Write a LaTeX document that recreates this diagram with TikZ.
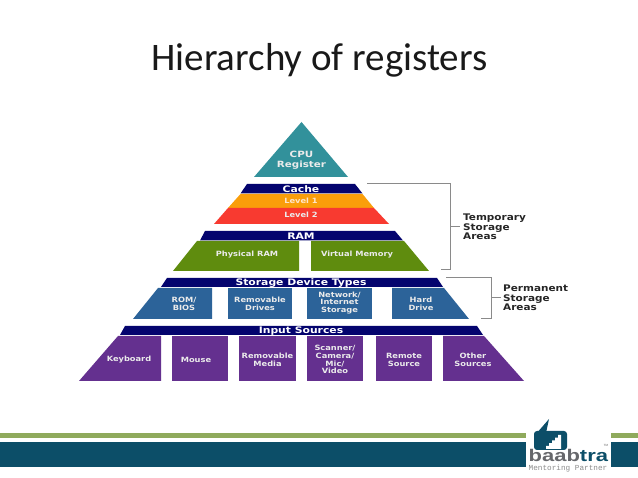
\documentclass[tikz,border=0pt]{standalone}
\usepackage{fontspec}
\setmainfont{Carlito}
\newfontfamily\djvfont[FakeStretch=1.15]{DejaVu Sans}
\newfontfamily\djwfont[FakeStretch=1.2]{DejaVu Sans}
\newfontfamily\libfont[FakeStretch=1.3]{Liberation Sans}
\newfontfamily\plainfont{Liberation Sans}
\newfontfamily\monofont{Liberation Mono}
\definecolor{navy}{HTML}{04046E}
\definecolor{cputeal}{HTML}{32919B}
\definecolor{lvlorange}{HTML}{FA9E0A}
\definecolor{lvlred}{HTML}{F83A30}
\definecolor{ramgreen}{HTML}{5F8C0E}
\definecolor{stblue}{HTML}{2C6399}
\definecolor{inpurple}{HTML}{64308F}
\definecolor{bandteal}{HTML}{0C4E68}
\definecolor{bandgreen}{HTML}{8FAA5C}
\definecolor{brk}{HTML}{8A8A8A}
\definecolor{lgray}{HTML}{66676B}
\tikzset{
  lbl/.style={font=\djvfont\bfseries\fontsize{7.2}{7.8}\selectfont,text=white!92!black,align=center,inner sep=0pt},
  hdr/.style={font=\djwfont\bfseries\fontsize{9}{9}\selectfont,text=white,align=center,inner sep=0pt},
  side/.style={font=\djvfont\bfseries\fontsize{9.1}{9.6}\selectfont,text=black!85,align=left,anchor=west,inner sep=0pt},
  brline/.style={draw=brk,line width=1pt}
}
\begin{document}
\begin{tikzpicture}[x=1pt,y=-1pt]
\useasboundingbox (0,0) rectangle (638,478);
\fill[white] (0,0) rectangle (638,478);
\node[font=\fontsize{39}{42}\selectfont,text=black!90,inner sep=0pt,anchor=base] (title) at (319.5,71) {Hierarchy of registers};
% CPU
\fill[cputeal] (301.5,122)--(348,177)--(254,177)--cycle;
\node[lbl,font=\djwfont\bfseries\fontsize{8.6}{9.6}\selectfont] (cpu) at (301.5,160) {CPU\\Register};
% Cache
\fill[navy] (247,184)--(355,184)--(362.5,193.5)--(240.5,193.5)--cycle;
\node[hdr] (cache) at (301,189) {Cache};
\fill[lvlorange] (240.5,194)--(362.5,194)--(374,208)--(228,208)--cycle;
\node[lbl,text=white!80!orange] (l1) at (301,200.5) {Level 1};
\fill[lvlred] (228,208)--(374,208)--(389,224)--(214,224)--cycle;
\node[lbl] (l2) at (301,215) {Level 2};
% RAM
\fill[navy] (205,231)--(395,231)--(403,240.5)--(200,240.5)--cycle;
\node[hdr] (ram) at (301,236) {RAM};
\fill[ramgreen] (197,241)--(299,241)--(299,271)--(173,271)--cycle;
\node[lbl] (pram) at (247,255) {Physical RAM};
\fill[ramgreen] (311,241)--(404,241)--(429,271)--(311,271)--cycle;
\node[lbl] (vmem) at (357,255) {Virtual Memory};
% Storage
\fill[navy] (167,278)--(437,278)--(443,287)--(161,287)--cycle;
\node[hdr] (stor) at (301,283.3) {Storage Device Types};
\fill[stblue] (158,288)--(212,288)--(212,319)--(133,319)--cycle;
\node[lbl] (rom) at (184,304) {ROM/\\BIOS};
\fill[stblue] (228,288)--(292,288)--(292,319)--(228,319)--cycle;
\node[lbl] (rdrv) at (260,304) {Removable\\Drives};
\fill[stblue] (307,288)--(372,288)--(372,319)--(307,319)--cycle;
\node[lbl] (net) at (339.5,303) {Network/\\Internet\\Storage};
\fill[stblue] (392,288)--(444,288)--(469,319)--(392,319)--cycle;
\node[lbl] (hd) at (421,304) {Hard\\Drive};
% Input
\fill[navy] (125,326)--(477,326)--(483,335)--(120,335)--cycle;
\node[hdr] (inp) at (301,331) {Input Sources};
\fill[inpurple] (118,336)--(161,336)--(161,381)--(79,381)--cycle;
\node[lbl] (kb) at (129,360) {Keyboard};
\fill[inpurple] (172,336)--(228,336)--(228,381)--(172,381)--cycle;
\node[lbl] (ms) at (196,360) {Mouse};
\fill[inpurple] (239,336)--(296,336)--(296,381)--(239,381)--cycle;
\node[lbl] (rm) at (267.5,360) {Removable\\Media};
\fill[inpurple] (307,336)--(363,336)--(363,381)--(307,381)--cycle;
\node[lbl] (scan) at (335,359.5) {Scanner/\\Camera/\\Mic/\\Video};
\fill[inpurple] (376,336)--(432,336)--(432,381)--(376,381)--cycle;
\node[lbl] (rs) at (404,360) {Remote\\Source};
\fill[inpurple] (443,336)--(484,336)--(524,381)--(443,381)--cycle;
\node[lbl] (os) at (473,360) {Other\\Sources};
% Brackets
\node[side] (temp) at (463,227) {Temporary\\Storage\\Areas};
\node[side] (perm) at (503,298) {Permanent\\Storage\\Areas};
\coordinate (ta) at (367,184); \coordinate (tb) at (450.5,184);
\coordinate (tc) at (450.5,270); \coordinate (td) at (441,270);
\coordinate (tm) at (450.5,227); \coordinate (te) at (460,227);
\draw[brline] (ta)--(tb)--(tc)--(td);
\draw[brline] (tm)--(te);
\coordinate (pa) at (446,278); \coordinate (pb) at (491,278);
\coordinate (pc) at (491,319); \coordinate (pd) at (481,319);
\coordinate (pm) at (491,298); \coordinate (pe) at (501,298);
\draw[brline] (pa)--(pb)--(pc)--(pd);
\draw[brline] (pm)--(pe);
% Footer bands
\fill[bandgreen] (0,433.3) rectangle (526,437.7);
\fill[bandgreen] (611,433.3) rectangle (638,437.7);
\fill[bandteal] (0,441.7) rectangle (526,467.3);
\fill[bandteal] (611,441.7) rectangle (638,467.3);
% Logo bubble
\fill[bandteal,rounded corners=3pt] (534,431)--(534,450)--(567,450)--(567,431)--cycle;
\fill[bandteal] (536,434)--(549,419)--(546,433)--cycle;
\fill[white] (546,449)--(546,446)--(549,446)--(549,443.2)--(552,443.2)--(552,440.4)--(555,440.4)--(555,437.6)--(558,437.6)--(558,435)--(561,435)--(561,449)--cycle;
\node[font=\libfont\bfseries\fontsize{16.9}{17}\selectfont,inner sep=0pt,anchor=base west] (logo) at (528.5,462) {\textcolor{lgray}{baab}\textcolor{bandteal}{tra}};
\node[font=\monofont\fontsize{7.7}{8}\selectfont,text=black!45,inner sep=0pt,anchor=base] (ment) at (568,470.5) {Mentoring Partner};
\node[font=\plainfont\fontsize{3}{3}\selectfont,text=black!60,inner sep=0pt] (tmark) at (606,445) {TM};
\end{tikzpicture}
\end{document}
